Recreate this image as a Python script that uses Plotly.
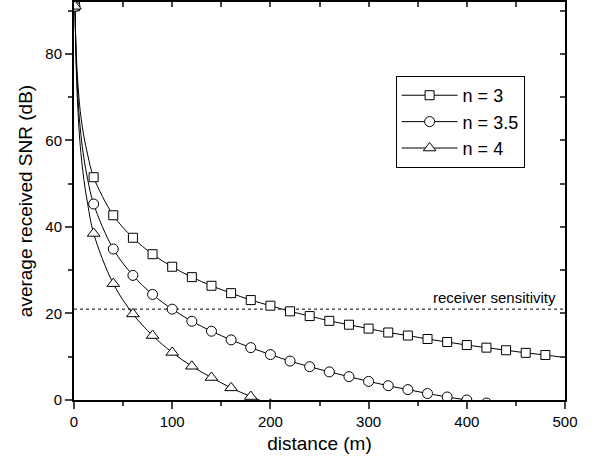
import plotly.graph_objects as go

# marker positions (m)
marker_d = [1, 20, 40, 60, 80, 100, 120, 140, 160, 180, 200, 220, 240, 260, 280,
            300, 320, 340, 360, 380, 400, 420, 440, 460, 480]

# values (dB)
snr_n3 = [91.0, 51.5, 42.7, 37.5, 33.7, 30.8, 28.4, 26.4, 24.7, 23.1, 21.8, 20.5, 19.4,
          18.3, 17.4, 16.5, 15.6, 14.9, 14.1, 13.4, 12.7, 12.1, 11.5, 10.9, 10.4]
snr_n35 = [91.0, 45.3, 34.9, 28.8, 24.4, 21.0, 18.2, 15.9, 13.9, 12.1, 10.5, 9.0, 7.7,
           6.5, 5.4, 4.3, 3.3, 2.4, 1.5, 0.7, 0.0, -0.7]
snr_n4 = [91.0, 38.5, 26.9, 19.9, 14.9, 11.0, 7.8, 5.2, 2.8, 0.8, -1.0]

# extra points for the steep start of each curve
start_d = [1, 2, 3, 5, 7, 10, 14]
start_n3 = [91.0, 82.0, 76.7, 70.0, 65.6, 61.0, 56.6]
start_n35 = [91.0, 80.5, 74.3, 66.5, 61.4, 56.0, 50.9]
start_n4 = [91.0, 79.0, 71.9, 63.0, 57.2, 51.0, 45.2]

# curve ends past the last marker
tail_d3, tail_n3 = [500], [9.8]
tail_d35, tail_n35 = [440], [-1.4]
tail_d4, tail_n4 = [220], [-2.7]

sensitivity = 21
sens_label = "receiver sensitivity"

series = [
    ("n = 3", "square", 9, snr_n3, start_n3, tail_d3, tail_n3),
    ("n = 3.5", "circle", 10, snr_n35, start_n35, tail_d35, tail_n35),
    ("n = 4", "triangle-up", 11, snr_n4, start_n4, tail_d4, tail_n4),
]

fig = go.Figure()

# curves
for name, sym, size, vals, start, td, tv in series:
    xs = start_d + marker_d[1:len(vals)] + td
    ys = start + vals[1:] + tv
    fig.add_trace(go.Scatter(
        x=xs, y=ys, mode="lines", line=dict(color="black", width=1, shape="spline"),
        showlegend=False, hoverinfo="skip",
    ))

# receiver sensitivity line
fig.add_trace(go.Scatter(
    x=[0, 500], y=[sensitivity, sensitivity], mode="lines",
    line=dict(color="black", width=1, dash="dot"), showlegend=False, hoverinfo="skip",
))

# markers
for name, sym, size, vals, start, td, tv in series:
    fig.add_trace(go.Scatter(
        x=marker_d[:len(vals)], y=vals, mode="markers",
        marker=dict(symbol=sym, size=size, color="white", line=dict(color="black", width=1)),
        showlegend=False,
    ))

# legend entries
for name, sym, size, vals, start, td, tv in series:
    fig.add_trace(go.Scatter(
        x=[None], y=[None], mode="lines+markers", name=name,
        line=dict(color="black", width=1),
        marker=dict(symbol=sym, size=size, color="white", line=dict(color="black", width=1)),
    ))

# dummy trace for the top/right axes
fig.add_trace(go.Scatter(x=[None], y=[None], xaxis="x2", yaxis="y2", showlegend=False,
                         hoverinfo="skip"))

fig.add_annotation(x=493, y=sensitivity, xref="x", yref="y", text=sens_label,
                   showarrow=False, xanchor="right", yanchor="bottom", yshift=1,
                   font=dict(size=15, color="black"))

fig.update_layout(
    width=597, height=461,
    margin=dict(l=74, r=32, t=2, b=61),
    paper_bgcolor="white", plot_bgcolor="white",
    font=dict(family="Arial, Liberation Sans, sans-serif", color="black"),
    xaxis=dict(
        range=[0, 500], dtick=100, ticks="outside", ticklen=7, tickwidth=2,
        minor=dict(dtick=50, ticks="outside", ticklen=4, tickwidth=2, showgrid=False),
        showline=True, linewidth=2, linecolor="black", showgrid=False, zeroline=False,
        tickfont=dict(size=15), title=dict(text="distance (m)", font=dict(size=19), standoff=8),
    ),
    yaxis=dict(
        range=[0, 92], dtick=20, ticks="outside", ticklen=7, tickwidth=2,
        minor=dict(dtick=10, ticks="outside", ticklen=4, tickwidth=2, showgrid=False),
        showline=True, linewidth=2, linecolor="black", showgrid=False, zeroline=False,
        tickfont=dict(size=15),
        title=dict(text="average received SNR (dB)", font=dict(size=19), standoff=8),
    ),
    xaxis2=dict(
        range=[0, 500], overlaying="x", side="top", anchor="y", dtick=50, ticks="inside",
        ticklen=5, tickwidth=2, showticklabels=False, showline=True, linewidth=2,
        linecolor="black", showgrid=False, zeroline=False,
    ),
    yaxis2=dict(
        range=[0, 92], overlaying="y", side="right", anchor="x", dtick=10, ticks="inside",
        ticklen=5, tickwidth=2, showticklabels=False, showline=True, linewidth=2,
        linecolor="black", showgrid=False, zeroline=False,
    ),
    legend=dict(
        x=0.655, y=0.814, xanchor="left", yanchor="top",
        bordercolor="black", borderwidth=1, bgcolor="white",
        font=dict(size=18), tracegroupgap=0, itemwidth=56,
    ),
)

fig.write_html("out.html", config={"displayModeBar": False},
               post_script="document.body.style.margin = '0';")
